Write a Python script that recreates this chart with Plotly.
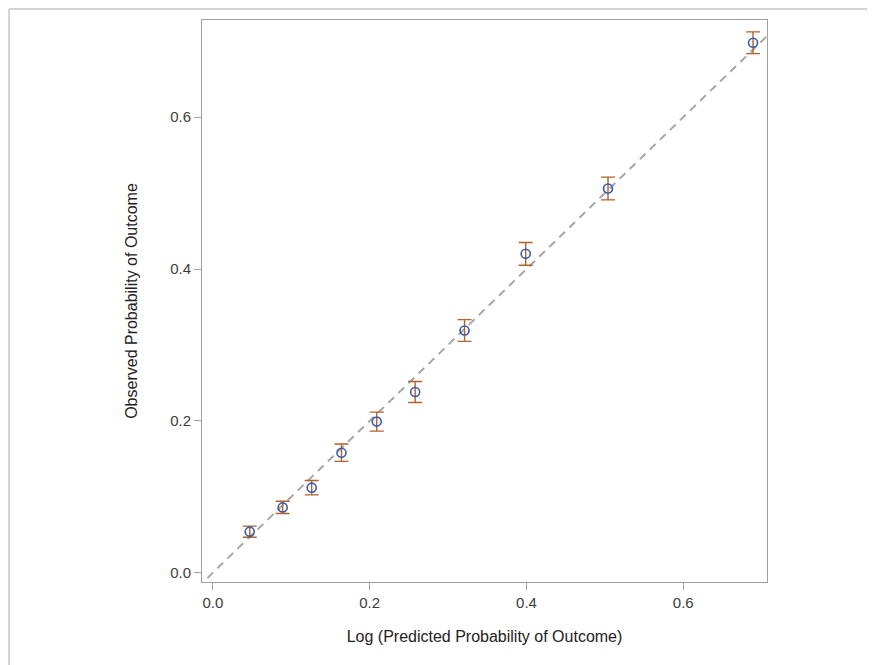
import plotly.graph_objects as go

# Data
predicted = [0.047, 0.089, 0.126, 0.164, 0.209, 0.258, 0.321, 0.399, 0.504, 0.689]
observed = [0.054, 0.086, 0.112, 0.158, 0.199, 0.238, 0.319, 0.420, 0.506, 0.698]
err_half = [0.0073, 0.0081, 0.0095, 0.0114, 0.0125, 0.0138, 0.0143, 0.015, 0.015, 0.0143]
ref_line = [-0.02, 0.72]
tick_vals = [0.0, 0.2, 0.4, 0.6]
tick_text = ["0.0", "0.2", "0.4", "0.6"]

fig = go.Figure()

fig.add_trace(go.Scatter(
    x=ref_line, y=ref_line, mode="lines",
    line=dict(color="#a6a6a6", width=2, dash="8px,6px"),
    hoverinfo="skip", showlegend=False,
))

fig.add_trace(go.Scatter(
    x=predicted, y=observed, mode="markers",
    marker=dict(symbol="circle-open", size=9, color="#3a5bab", line=dict(width=1.6, color="#3a5bab")),
    error_y=dict(type="data", array=err_half, visible=True, color="#b0622c", thickness=1.4, width=7),
    showlegend=False,
))

axis_common = dict(
    showgrid=False, zeroline=False, showline=True, linecolor="#a0a0a0", linewidth=1,
    mirror=True, ticks="outside", ticklen=7, tickcolor="#a0a0a0",
    tickvals=tick_vals, ticktext=tick_text,
    tickfont=dict(family="Liberation Sans, Arial, sans-serif", size=15, color="#3c3c3c"),
)

fig.update_layout(
    width=875, height=665,
    margin=dict(l=194, r=116, t=12, b=91),
    paper_bgcolor="white", plot_bgcolor="white",
    xaxis=dict(range=[-0.0139, 0.7068], title=dict(text="Log (Predicted Probability of Outcome)",
               font=dict(family="Liberation Sans, Arial, sans-serif", size=16, color="#222"), standoff=20),
               **axis_common),
    yaxis=dict(range=[-0.0123, 0.728], title=dict(text="Observed Probability of Outcome",
               font=dict(family="Liberation Sans, Arial, sans-serif", size=16, color="#222"), standoff=28),
               **axis_common),
    shapes=[
        dict(type="line", xref="paper", yref="paper", x0=-0.3416, x1=1.21, y0=1.0196, y1=1.0196,
             line=dict(color="#d4d4d4", width=2)),
        dict(type="line", xref="paper", yref="paper", x0=-0.3416, x1=-0.3416, y0=1.0196, y1=-0.17,
             line=dict(color="#d4d4d4", width=2)),
    ],
)

fig.write_html("out.html")
